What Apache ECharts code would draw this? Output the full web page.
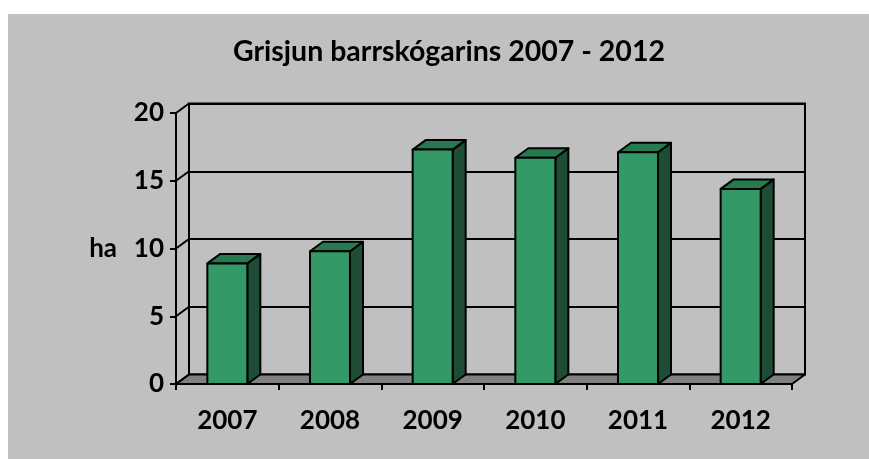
<!DOCTYPE html>
<html>
<head>
<meta charset="utf-8">
<script src="https://cdn.jsdelivr.net/npm/echarts@6/dist/echarts.min.js"></script>
<style>
html,body{margin:0;padding:0;background:#fff}
#main{width:869px;height:459px}
</style>
</head>
<body>
<div id="main"></div>
<script>
// gögn
var years = ['2007', '2008', '2009', '2010', '2011', '2012'];
var hectares = [8.9, 9.8, 17.3, 16.7, 17.1, 14.4];
var yTicks = [0, 5, 10, 15, 20];

var DX = 13, DY = -9.5; // dýpt
var BAR_W = 40;
var FONT = 'Lato';

function withLine(fill) {
	return {fill: fill, stroke: '#000', lineWidth: 2, lineJoin: 'round'};
}

// súlur í 3D
function renderBar(params, api) {
	var p = api.coord([api.value(0), api.value(1)]);
	var base = api.coord([api.value(0), 0]);
	var x0 = p[0] - BAR_W / 2, x1 = p[0] + BAR_W / 2;
	var yt = p[1], yb = base[1];
	return {
		type: 'group',
		children: [
			{type: 'polygon', shape: {points: [[x1, yb], [x1 + DX, yb + DY], [x1 + DX, yt + DY], [x1, yt]]}, style: withLine('#1E4D35')},
			{type: 'polygon', shape: {points: [[x0, yt], [x1, yt], [x1 + DX, yt + DY], [x0 + DX, yt + DY]]}, style: withLine('#277A50')},
			{type: 'rect', shape: {x: x0, y: yt, width: BAR_W, height: yb - yt}, style: withLine('#339966')}
		]
	};
}

// gólf og skálínur vinstra megin
function renderFrame(params, api) {
	var v = api.value(1);
	var bw = api.size([1, 0])[0];
	var first = api.coord([0, v]);
	var last = api.coord([years.length - 1, v]);
	var xl = first[0] - bw / 2, xr = last[0] + bw / 2, y = first[1];
	var children = [];
	if (v === 0) {
		children.push({type: 'polygon', shape: {points: [[xl, y], [xr, y], [xr + DX, y + DY], [xl + DX, y + DY]]}, style: withLine('#808080')});
	}
	children.push({type: 'line', shape: {x1: xl, y1: y, x2: xl + DX, y2: y + DY}, style: {stroke: '#000', lineWidth: 2}});
	return {type: 'group', children: children};
}

var chart = echarts.init(document.getElementById('main'));
chart.setOption({
	backgroundColor: '#fff',
	animation: false,
	graphic: [{
		type: 'rect', left: 8, top: 14, z: -10,
		shape: {width: 861, height: 445},
		style: {fill: '#C0C0C0'}
	}],
	title: {
		text: 'Grisjun barrskógarins 2007 - 2012',
		left: 228, top: 32,
		textStyle: {fontFamily: FONT, fontWeight: 'bold', fontSize: 28.5, color: '#000'}
	},
	grid: [
		{left: 176, right: 77, top: 113, bottom: 75},
		{left: 189, right: 64, top: 103.5, bottom: 84.5, show: true, borderColor: '#000', borderWidth: 2, backgroundColor: 'transparent'}
	],
	xAxis: [{
		type: 'category', gridIndex: 0, data: years,
		axisLine: {lineStyle: {color: '#000', width: 2}},
		axisTick: {show: true, interval: 0, length: 6, lineStyle: {color: '#000', width: 2}},
		axisLabel: {margin: 24, fontFamily: FONT, fontWeight: 'bold', fontSize: 26, color: '#000'}
	}, {
		type: 'category', gridIndex: 1, data: years, show: false
	}],
	yAxis: [{
		type: 'value', gridIndex: 0, min: 0, max: 20, interval: 5,
		name: 'ha', nameLocation: 'middle', nameRotate: 0, nameGap: 59,
		nameTextStyle: {fontFamily: FONT, fontWeight: 'bold', fontSize: 26, color: '#000'},
		axisLine: {show: true, lineStyle: {color: '#000', width: 2}},
		axisTick: {show: true, length: 6, lineStyle: {color: '#000', width: 2}},
		axisLabel: {margin: 12, fontFamily: FONT, fontWeight: 'bold', fontSize: 26, color: '#000'},
		splitLine: {show: false}
	}, {
		type: 'value', gridIndex: 1, min: 0, max: 20, interval: 5,
		axisLine: {show: false}, axisTick: {show: false}, axisLabel: {show: false},
		splitLine: {show: true, lineStyle: {color: '#000', width: 2}}
	}],
	series: [{
		type: 'custom', xAxisIndex: 0, yAxisIndex: 0, z: 1,
		renderItem: renderFrame,
		data: yTicks.map(function (v) { return [0, v]; })
	}, {
		type: 'custom', xAxisIndex: 0, yAxisIndex: 0, z: 3,
		renderItem: renderBar,
		data: hectares.map(function (v, i) { return [i, v]; })
	}]
});
</script>
</body>
</html>
